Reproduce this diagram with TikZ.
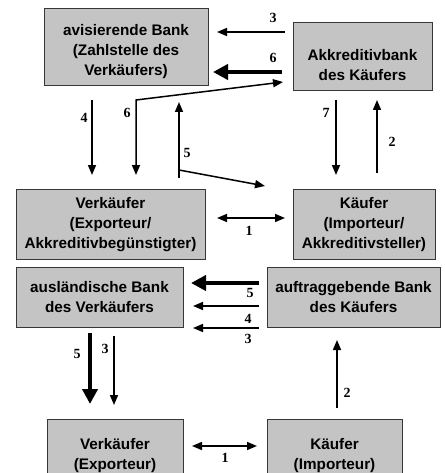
\documentclass[tikz,border=0pt]{standalone}
\usepackage{fontspec}
\setmainfont{Liberation Sans}
\newfontfamily\numfont{Liberation Serif}
\usetikzlibrary{arrows.meta}
\definecolor{boxgray}{RGB}{196,196,196}
\definecolor{boxedge}{RGB}{55,55,55}
\begin{document}
\begin{tikzpicture}[x=1pt,y=-1pt,
  box/.style={draw=boxedge,fill=boxgray,line width=1pt,inner sep=0pt,outer sep=0pt},
  txt/.style={align=center,font=\fontsize{15.3}{20}\selectfont\bfseries,inner sep=0pt},
  num/.style={font=\numfont\fontsize{14}{14}\selectfont\bfseries,inner sep=0pt},
  thinarr/.style={line width=1.5pt,-{Triangle[length=10pt,width=8pt]}},
  thinboth/.style={line width=1.5pt,{Triangle[length=10pt,width=8pt]}-{Triangle[length=10pt,width=8pt]}},
  thickarr/.style={line width=4.5pt,-{Triangle[length=15pt,width=15pt]}}]
\useasboundingbox (0,0) rectangle (444,473);
\clip (0,0) rectangle (444,473);
% boxes
\node[box,minimum width=164pt,minimum height=77pt] (A) at (126,47.5) {};
\node[txt] (At) at (126,52) {avisierende Bank\\(Zahlstelle des\\Verkäufers)};
\node[box,minimum width=139pt,minimum height=68pt] (B) at (362.5,57) {};
\node[txt] (Bt) at (362.5,65.5) {Akkreditivbank\\des Käufers};
\node[box,minimum width=189pt,minimum height=70pt] (C) at (110.5,224) {};
\node[txt] (Ct) at (110.5,225) {Verkäufer\\(Exporteur/\\Akkreditivbegünstigter)};
\node[box,minimum width=142pt,minimum height=70pt] (D) at (364,224) {};
\node[txt] (Dt) at (364,225) {Käufer\\(Importeur/\\Akkreditivsteller)};
\node[box,minimum width=167pt,minimum height=60pt] (E) at (99.5,297) {};
\node[txt] (Et) at (99.5,297) {ausländische Bank\\des Verkäufers};
\node[box,minimum width=173pt,minimum height=60pt] (F) at (353.5,297) {};
\node[txt] (Ft) at (353.5,297) {auftraggebende Bank\\des Käufers};
\node[box,minimum width=136pt,minimum height=71pt] (G) at (115,454.5) {};
\node[txt] (Gt) at (115,456) {Verkäufer\\(Exporteur)};
\node[box,minimum width=135pt,minimum height=71pt] (H) at (334.5,454.5) {};
\node[txt] (Ht) at (334.5,456) {Käufer\\(Importeur)};
% coordinates
\coordinate (a3s) at (285,32);   \coordinate (a3e) at (217,32);
\coordinate (a6s) at (282,72);   \coordinate (a6e) at (213,72);
\coordinate (b6a) at (136,175);  \coordinate (b6b) at (136,100); \coordinate (b6c) at (283,82);
\coordinate (a4s) at (92,100);   \coordinate (a4e) at (92,175);
\coordinate (a5s) at (179,178);  \coordinate (a5e) at (179,102);
\coordinate (d5s) at (179,170);  \coordinate (d5e) at (265,186);
\coordinate (a7s) at (336,100);  \coordinate (a7e) at (336,175);
\coordinate (a2s) at (377,173);  \coordinate (a2e) at (377,100);
\coordinate (a1s) at (217,218);  \coordinate (a1e) at (285,218);
\coordinate (m5s) at (259,283);  \coordinate (m5e) at (191,283);
\coordinate (m4s) at (259,306);  \coordinate (m4e) at (193,306);
\coordinate (m3s) at (259,328);  \coordinate (m3e) at (193,328);
\coordinate (l5s) at (90,333);   \coordinate (l5e) at (90,404);
\coordinate (l3s) at (114,336);  \coordinate (l3e) at (114,405);
\coordinate (r2s) at (337,408);  \coordinate (r2e) at (337,340);
\coordinate (b1s) at (192,446);  \coordinate (b1e) at (257,446);
% arrows
\draw[thinarr] (a3s) -- (a3e);
\draw[thickarr] (a6s) -- (a6e);
\draw[thinboth] (b6a) -- (b6b) -- (b6c);
\draw[thinarr] (a4s) -- (a4e);
\draw[thinarr] (a5s) -- (a5e);
\draw[thinarr] (d5s) -- (d5e);
\draw[thinarr] (a7s) -- (a7e);
\draw[thinarr] (a2s) -- (a2e);
\draw[thinboth] (a1s) -- (a1e);
\draw[thickarr] (m5s) -- (m5e);
\draw[thinarr] (m4s) -- (m4e);
\draw[thinarr] (m3s) -- (m3e);
\draw[thickarr] (l5s) -- (l5e);
\draw[thinarr] (l3s) -- (l3e);
\draw[thinarr] (r2s) -- (r2e);
\draw[thinboth] (b1s) -- (b1e);
% labels
\node[num] (n3a) at (273,18) {3};
\node[num] (n6a) at (273,58) {6};
\node[num] (n6b) at (127,113) {6};
\node[num] (n4a) at (84,118) {4};
\node[num] (n5a) at (187,153) {5};
\node[num] (n7) at (326,113) {7};
\node[num] (n2a) at (392,142) {2};
\node[num] (n1a) at (249,231) {1};
\node[num] (n5b) at (250,293) {5};
\node[num] (n4b) at (248,319) {4};
\node[num] (n3b) at (248,339) {3};
\node[num] (n5c) at (77,354) {5};
\node[num] (n3c) at (105,349) {3};
\node[num] (n2b) at (347,393) {2};
\node[num] (n1b) at (225,458) {1};
\end{tikzpicture}
\end{document}
